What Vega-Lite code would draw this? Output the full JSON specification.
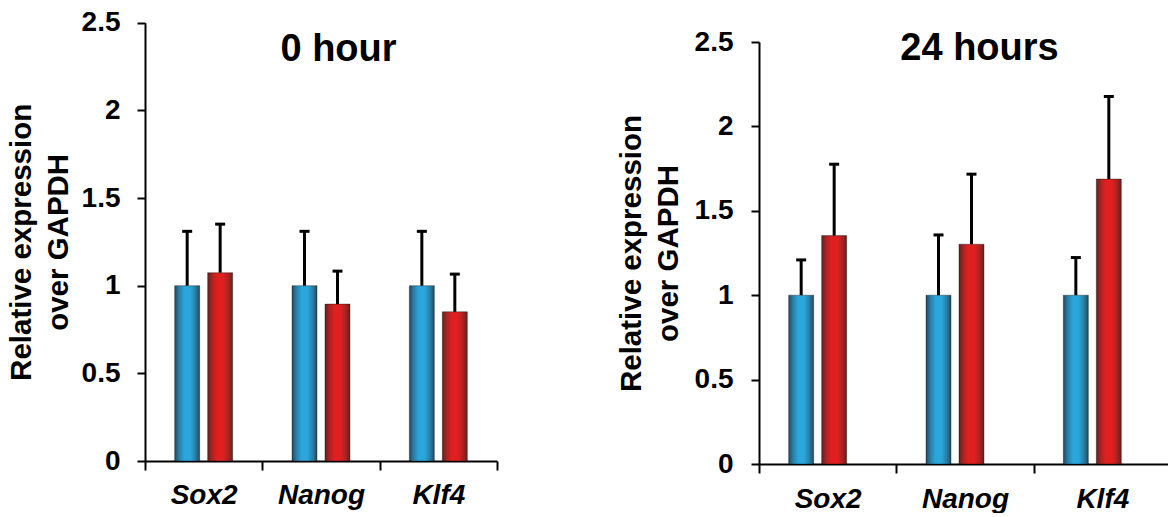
{
  "$schema": "https://vega.github.io/schema/vega-lite/v6.json",
  "background": "white",
  "padding": {"left": 6, "top": 0, "right": 0, "bottom": 0},
  "autosize": {"type": "pad"},
  "spacing": 118,
  "config": {
    "view": {"stroke": null},
    "font": "Liberation Sans",
    "axis": {
      "domainColor": "black", "domainWidth": 2,
      "tickColor": "black", "tickWidth": 2,
      "labelColor": "black", "labelFont": "Liberation Sans", "labelFontWeight": "bold", "labelFontSize": 28,
      "titleColor": "black", "titleFont": "Liberation Sans", "titleFontWeight": "bold", "titleFontSize": 29.5,
      "grid": false
    }
  },
  "data": {
    "values": [
      {"panel": "0 hour", "gene": "Sox2", "group": "Control", "value": 1.0, "upper": 1.31},
      {"panel": "0 hour", "gene": "Sox2", "group": "Treated", "value": 1.074, "upper": 1.351},
      {"panel": "0 hour", "gene": "Nanog", "group": "Control", "value": 1.0, "upper": 1.31},
      {"panel": "0 hour", "gene": "Nanog", "group": "Treated", "value": 0.895, "upper": 1.083},
      {"panel": "0 hour", "gene": "Klf4", "group": "Control", "value": 1.0, "upper": 1.31},
      {"panel": "0 hour", "gene": "Klf4", "group": "Treated", "value": 0.851, "upper": 1.066},
      {"panel": "24 hours", "gene": "Sox2", "group": "Control", "value": 1.0, "upper": 1.209},
      {"panel": "24 hours", "gene": "Sox2", "group": "Treated", "value": 1.353, "upper": 1.776},
      {"panel": "24 hours", "gene": "Nanog", "group": "Control", "value": 1.0, "upper": 1.357},
      {"panel": "24 hours", "gene": "Nanog", "group": "Treated", "value": 1.302, "upper": 1.717},
      {"panel": "24 hours", "gene": "Klf4", "group": "Control", "value": 1.0, "upper": 1.223},
      {"panel": "24 hours", "gene": "Klf4", "group": "Treated", "value": 1.688, "upper": 2.177}
    ]
  },
  "hconcat": [
    {
      "width": 352,
      "height": 461,
      "transform": [{"filter": "datum.panel === '0 hour'"}],
      "encoding": {
        "x": {"field": "gene", "type": "nominal", "sort": ["Sox2", "Nanog", "Klf4"],
          "scale": {"paddingInner": 0, "paddingOuter": 0},
          "axis": {"title": null, "labelAngle": 0, "tickBand": "extent", "tickSize": 9, "labelPadding": 11, "labelFontStyle": "italic"}},
        "y": {"field": "value", "type": "quantitative",
          "scale": {"domain": [0, 2.5], "range": [461, 22.7], "nice": false},
          "axis": {"title": ["Relative expression", "over GAPDH"], "values": [0, 0.5, 1, 1.5, 2, 2.5], "format": "~f", "tickSize": 8, "labelPadding": 17, "titlePadding": 8, "titleLineHeight": 37}}
      },
      "layer": [
        {
          "mark": {"type": "bar", "stroke": "#000000", "strokeOpacity": 0.35, "strokeWidth": 1},
          "encoding": {
            "xOffset": {"field": "group", "type": "nominal", "scale": {"paddingInner": 0.242, "paddingOuter": 0.9}},
            "fill": {
              "condition": {"test": "datum.group === 'Control'", "value": {"gradient": "linear", "x1": 0, "x2": 1, "y1": 0, "y2": 0, "stops": [{"offset": 0, "color": "#244a5f"}, {"offset": 0.18, "color": "#2a7fa8"}, {"offset": 0.38, "color": "#2aa6da"}, {"offset": 0.62, "color": "#2aa6da"}, {"offset": 0.82, "color": "#2a7fa8"}, {"offset": 1, "color": "#244a5f"}]}},
              "value": {"gradient": "linear", "x1": 0, "x2": 1, "y1": 0, "y2": 0, "stops": [{"offset": 0, "color": "#62231e"}, {"offset": 0.18, "color": "#ad2222"}, {"offset": 0.38, "color": "#e02020"}, {"offset": 0.62, "color": "#e02020"}, {"offset": 0.82, "color": "#ad2222"}, {"offset": 1, "color": "#62231e"}]}
            }
          }
        },
        {
          "mark": {"type": "rule", "strokeWidth": 3, "color": "black"},
          "encoding": {
            "xOffset": {"field": "group", "type": "nominal", "scale": {"paddingInner": 0.242, "paddingOuter": 0.9}},
            "y2": {"field": "upper"}
          }
        },
        {
          "mark": {"type": "tick", "thickness": 3, "size": 10, "color": "black", "opacity": 1},
          "encoding": {
            "xOffset": {"field": "group", "type": "nominal", "scale": {"paddingInner": 0.242, "paddingOuter": 0.9}},
            "y": {"field": "upper", "type": "quantitative"}
          }
        },
        {
          "transform": [{"filter": "datum.gene === 'Nanog' && datum.group === 'Control'"}],
          "mark": {"type": "text", "font": "Liberation Sans", "fontSize": 38, "fontWeight": "bold", "color": "black", "align": "center", "baseline": "alphabetic", "dx": 17.5},
          "encoding": {
            "y": {"datum": 2.28},
            "text": {"field": "panel"}
          }
        }
      ]
    },
    {
      "width": 412,
      "height": 464,
      "transform": [{"filter": "datum.panel === '24 hours'"}],
      "encoding": {
        "x": {"field": "gene", "type": "nominal", "sort": ["Sox2", "Nanog", "Klf4"],
          "scale": {"paddingInner": 0, "paddingOuter": 0},
          "axis": {"title": null, "labelAngle": 0, "tickBand": "extent", "tickSize": 9, "labelPadding": 12, "labelFontStyle": "italic"}},
        "y": {"field": "value", "type": "quantitative",
          "scale": {"domain": [0, 2.5], "range": [464, 42], "nice": false},
          "axis": {"title": ["Relative expression", "over GAPDH"], "values": [0, 0.5, 1, 1.5, 2, 2.5], "format": "~f", "tickSize": 8, "labelPadding": 18, "titlePadding": 11, "titleLineHeight": 37}}
      },
      "layer": [
        {
          "mark": {"type": "bar", "stroke": "#000000", "strokeOpacity": 0.35, "strokeWidth": 1},
          "encoding": {
            "xOffset": {"field": "group", "type": "nominal", "scale": {"paddingInner": 0.228, "paddingOuter": 0.85}},
            "fill": {
              "condition": {"test": "datum.group === 'Control'", "value": {"gradient": "linear", "x1": 0, "x2": 1, "y1": 0, "y2": 0, "stops": [{"offset": 0, "color": "#244a5f"}, {"offset": 0.18, "color": "#2a7fa8"}, {"offset": 0.38, "color": "#2aa6da"}, {"offset": 0.62, "color": "#2aa6da"}, {"offset": 0.82, "color": "#2a7fa8"}, {"offset": 1, "color": "#244a5f"}]}},
              "value": {"gradient": "linear", "x1": 0, "x2": 1, "y1": 0, "y2": 0, "stops": [{"offset": 0, "color": "#62231e"}, {"offset": 0.18, "color": "#ad2222"}, {"offset": 0.38, "color": "#e02020"}, {"offset": 0.62, "color": "#e02020"}, {"offset": 0.82, "color": "#ad2222"}, {"offset": 1, "color": "#62231e"}]}
            }
          }
        },
        {
          "mark": {"type": "rule", "strokeWidth": 3, "color": "black"},
          "encoding": {
            "xOffset": {"field": "group", "type": "nominal", "scale": {"paddingInner": 0.228, "paddingOuter": 0.85}},
            "y2": {"field": "upper"}
          }
        },
        {
          "mark": {"type": "tick", "thickness": 3, "size": 10, "color": "black", "opacity": 1},
          "encoding": {
            "xOffset": {"field": "group", "type": "nominal", "scale": {"paddingInner": 0.228, "paddingOuter": 0.85}},
            "y": {"field": "upper", "type": "quantitative"}
          }
        },
        {
          "transform": [{"filter": "datum.gene === 'Nanog' && datum.group === 'Control'"}],
          "mark": {"type": "text", "font": "Liberation Sans", "fontSize": 38, "fontWeight": "bold", "color": "black", "align": "center", "baseline": "alphabetic", "dx": 14.5},
          "encoding": {
            "y": {"datum": 2.393},
            "text": {"field": "panel"}
          }
        }
      ]
    }
  ]
}
